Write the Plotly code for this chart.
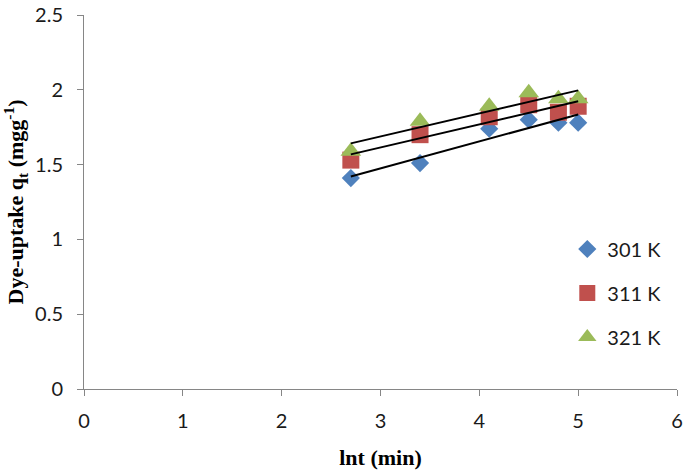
import numpy as np
import plotly.graph_objects as go

lnt = [2.7, 3.4, 4.1, 4.5, 4.8, 5.0]
q_301 = [1.41, 1.51, 1.74, 1.80, 1.78, 1.78]
q_311 = [1.53, 1.70, 1.82, 1.90, 1.85, 1.89]
q_321 = [1.59, 1.79, 1.89, 1.98, 1.94, 1.94]
series_names = ["301 K", "311 K", "321 K"]
colors = ["#4F81BD", "#C0504D", "#9BBB59"]
symbols = ["diamond", "square", "triangle-up"]
sizes = [14, 17, 18]

fig = go.Figure()
x = np.array(lnt)
for i, (name, ys) in enumerate(zip(series_names, [q_301, q_311, q_321])):
    fig.add_trace(go.Scatter(
        x=lnt, y=ys, mode="markers", name=name, legendgroup=name,
        marker=dict(symbol=symbols[i], color=colors[i], size=sizes[i], line=dict(width=0)),
    ))
for i, (name, ys) in enumerate(zip(series_names, [q_301, q_311, q_321])):
    y = np.array(ys)
    m, b = np.polyfit(x, y, 1)
    xs = [x.min(), x.max()]
    fig.add_trace(go.Scatter(
        x=xs, y=[m * xs[0] + b, m * xs[1] + b], mode="lines", showlegend=False,
        line=dict(color="black", width=2), hoverinfo="skip",
    ))

tick_font = dict(family="Lato, Open Sans, sans-serif", size=20, color="#1a1a1a")
title_font = dict(family="Liberation Serif, Times New Roman, serif", size=22, color="black")
axis_common = dict(
    showgrid=False, zeroline=False, showline=True, linecolor="#868686", linewidth=1,
    ticks="outside", tickcolor="#868686", ticklen=6, automargin=False,
    tickfont=tick_font,
)
fig.update_layout(
    width=685, height=470,
    margin=dict(l=84, r=8, t=15, b=81),
    paper_bgcolor="white", plot_bgcolor="white",
    xaxis=dict(range=[0, 6], dtick=1, ticklabelstandoff=8, **axis_common,
               title=dict(text="<b>lnt (min)</b>", standoff=18, font=title_font)),
    yaxis=dict(range=[0, 2.5], dtick=0.5, ticklabelstandoff=10, **axis_common,
               title=dict(text="<b>Dye-uptake q<sub>t</sub> (mgg<sup>-1</sup>)</b>", standoff=8, font=title_font)),
    legend=dict(x=0.815, y=0.4265, xanchor="left", yanchor="top",
                font=dict(family="Lato, Open Sans, sans-serif", size=20, color="#1a1a1a"),
                tracegroupgap=15, bgcolor="rgba(0,0,0,0)", itemsizing="trace"),
)
fig.write_html("out.html", config={"displayModeBar": False},
               post_script="document.body.style.margin='0';document.body.style.overflow='hidden';")
